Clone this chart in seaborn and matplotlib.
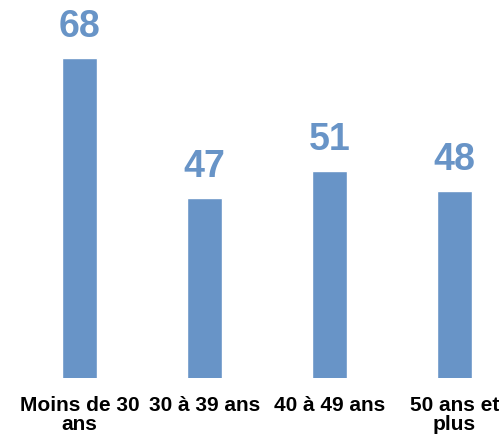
import matplotlib
matplotlib.use("Agg")
import matplotlib.pyplot as plt
import seaborn as sns
import pandas as pd

categories = ["Moins de 30\nans", "30 à 39 ans", "40 à 49 ans", "50 ans et\nplus"]
values = [68, 47, 51, 48]

BAR_COLOR = "#6894C7"

sns.set_theme(style="white")
plt.rcParams["font.family"] = ["Liberation Sans", "DejaVu Sans"]

df = pd.DataFrame({"groupe": categories, "valeur": values})

fig = plt.figure(figsize=(4.99, 4.39), dpi=100)
ax = fig.add_axes([0.0, 0.13667, 1.0, 0.8352])

sns.barplot(data=df, x="groupe", y="valeur", color=BAR_COLOR, width=0.28,
            saturation=1, ax=ax)

ax.set_ylim(20, 75)
ax.set_xlim(-79.5 / 125, (499 - 79.5) / 125)

for i, v in enumerate(values):
    ax.annotate(str(v), xy=(i, v), xytext=(0, 16), textcoords="offset points",
                ha="center", va="baseline", fontsize=27, fontweight="bold",
                color=BAR_COLOR)

ax.set_xlabel("")
ax.set_ylabel("")
ax.set_yticks([])
ax.tick_params(axis="x", length=0, pad=12)
for lab in ax.get_xticklabels():
    lab.set_fontsize(15)
    lab.set_fontweight("bold")
    lab.set_color("black")
    lab.set_linespacing(1.0)
for s in ax.spines.values():
    s.set_visible(False)

fig.savefig("out.png", dpi=100)
